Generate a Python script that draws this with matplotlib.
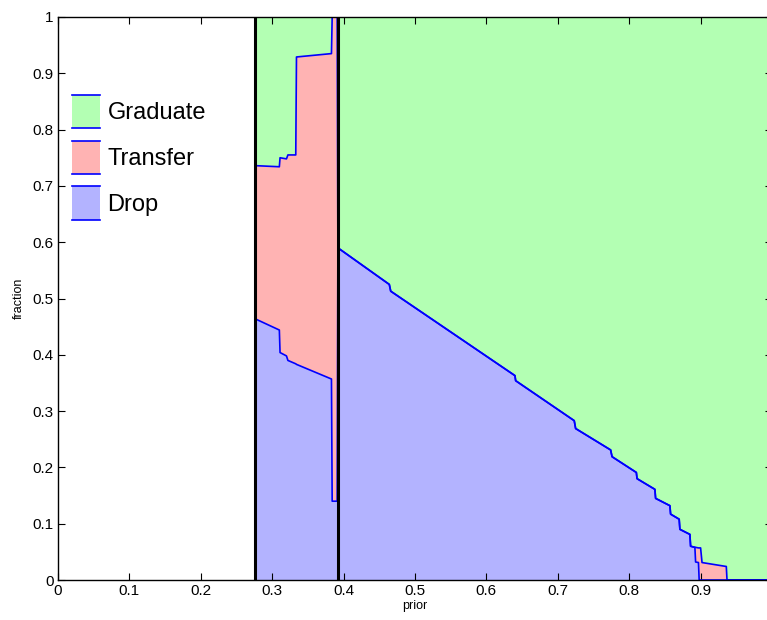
import matplotlib
matplotlib.use("Agg")
import matplotlib.pyplot as plt
from matplotlib.legend_handler import HandlerBase
from matplotlib.lines import Line2D
from matplotlib.patches import Patch, Rectangle
import numpy as np

plt.rcParams["font.family"] = ["Liberation Sans", "DejaVu Sans"]

# prior values where the fractions change
prior = [0.276, 0.310, 0.311, 0.320, 0.322, 0.333, 0.334, 0.383, 0.384, 0.391,
         0.392, 0.464, 0.466, 0.640, 0.641, 0.723, 0.725, 0.774, 0.776, 0.810,
         0.811, 0.836, 0.837, 0.857, 0.858, 0.870, 0.871, 0.885, 0.886, 0.892,
         0.893, 0.897, 0.898, 0.900, 0.902, 0.936, 0.937, 1.0]

drop = [0.464, 0.444, 0.404, 0.398, 0.390, 0.384, 0.383, 0.357, 0.140, 0.140,
        0.590, 0.525, 0.513, 0.363, 0.354, 0.283, 0.269, 0.231, 0.219, 0.191,
        0.180, 0.161, 0.145, 0.132, 0.117, 0.108, 0.090, 0.081, 0.060, 0.058,
        0.032, 0.031, 0.0, 0.0, 0.0, 0.0, 0.0, 0.0]

# drop + transfer
drop_transfer = [0.736, 0.734, 0.750, 0.748, 0.755, 0.755, 0.929, 0.935, 1.0, 1.0,
                 0.590, 0.525, 0.513, 0.363, 0.354, 0.283, 0.269, 0.231, 0.219, 0.191,
                 0.180, 0.161, 0.145, 0.132, 0.117, 0.108, 0.090, 0.081, 0.060, 0.058,
                 0.058, 0.057, 0.057, 0.057, 0.031, 0.024, 0.0, 0.0]

# thresholds
cut_lines = [0.276, 0.3915]

labels = ["Graduate", "Transfer", "Drop"]
colors = {"Graduate": (0.7, 1.0, 0.7), "Transfer": (1.0, 0.7, 0.7), "Drop": (0.7, 0.7, 1.0)}
EDGE = "#0000ff"


class AreaHandler(HandlerBase):

    def create_artists(self, legend, orig_handle, xdescent, ydescent,
                       width, height, fontsize, trans):
        x0, y0 = -xdescent, -ydescent
        rect = Rectangle((x0, y0), width, height,
                         facecolor=orig_handle.get_facecolor(),
                         edgecolor="none", transform=trans)
        top = Line2D([x0, x0 + width], [y0 + height] * 2,
                     color=EDGE, lw=1.2, transform=trans)
        bot = Line2D([x0, x0 + width], [y0, y0],
                     color=EDGE, lw=1.2, transform=trans)
        return [rect, top, bot]


x = np.array(prior)
d = np.array(drop)
dt = np.array(drop_transfer)
ones = np.ones_like(x)

fig = plt.figure(figsize=(7.67, 6.2), dpi=100)
ax = fig.add_axes([58 / 767, 40 / 620, 714 / 767, 563 / 620])

ax.fill_between(x, 0, d, facecolor=colors["Drop"], edgecolor="none", zorder=1)
ax.fill_between(x, d, dt, facecolor=colors["Transfer"], edgecolor="none", zorder=1)
ax.fill_between(x, dt, ones, facecolor=colors["Graduate"], edgecolor="none", zorder=1)

ax.plot(x, d, color=EDGE, lw=1.2, zorder=2)
ax.plot(x, dt, color=EDGE, lw=1.2, zorder=2)

for c in cut_lines:
    ax.axvline(c, color="black", lw=2.2, zorder=3)

ax.set_xlim(0, 1)
ax.set_ylim(0, 1)

xt = np.arange(0, 10) / 10
ax.set_xticks(xt)
ax.set_xticklabels(["0"] + ["%.1f" % v for v in xt[1:]])
yt = np.arange(0, 11) / 10
ax.set_yticks(yt)
ax.set_yticklabels(["0"] + ["%.1f" % v for v in yt[1:-1]] + ["1"])

ax.tick_params(direction="in", top=True, right=True, length=5,
               width=0.8, labelsize=11, pad=3)
for s in ax.spines.values():
    s.set_linewidth(1.0)
    s.set_zorder(4)

ax.set_xlabel("prior", fontsize=9, labelpad=1)
ax.set_ylabel("fraction", fontsize=9, labelpad=6)

handles = [Patch(facecolor=colors[k]) for k in labels]
ax.legend(handles, labels, handler_map={Patch: AreaHandler()},
          loc="upper left", bbox_to_anchor=(72 / 767, 1 - 95 / 620),
          bbox_transform=fig.transFigure, frameon=False, fontsize=17,
          handlelength=1.2, handleheight=1.8, handletextpad=0.3,
          labelspacing=0.52, borderpad=0, borderaxespad=0)

fig.savefig("out.png", dpi=100)
plt.close(fig)
